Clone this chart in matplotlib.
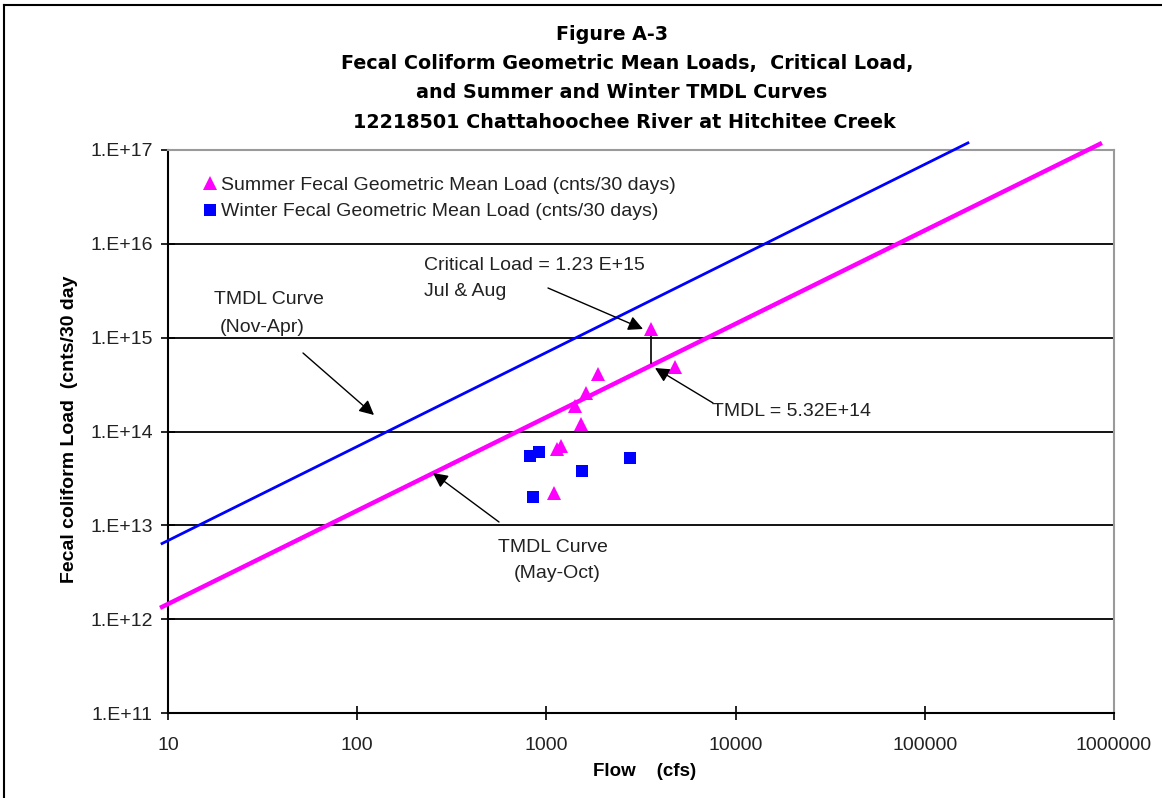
import matplotlib
matplotlib.use("Agg")
import matplotlib.pyplot as plt
from matplotlib.ticker import FixedLocator, FixedFormatter, NullLocator
from matplotlib.lines import Line2D

plt.rcParams['font.family'] = ['Liberation Sans', 'DejaVu Sans']

# ---------------- data ----------------
summer_flow = [3550, 4786, 1875, 1618, 1416, 1524, 1138, 1194, 1097]
summer_load = [1.23e15, 4.87e14, 4.10e14, 2.57e14, 1.88e14, 1.20e14, 6.5e13, 7.0e13, 2.23e13]

winter_flow = [819, 914, 1542, 2767, 847]
winter_load = [5.52e13, 6.10e13, 3.77e13, 5.26e13, 2.02e13]

winter_curve_flow = [9.3, 1.69e5]
winter_curve_load = [6.4e12, 1.19e17]
summer_curve_flow = [9.3, 8.43e5]
summer_curve_load = [1.35e12, 1.16e17]

critical_flow = 3550
critical_load = 1.23e15
tmdl_load = 5.32e14

y_ticks = [1e11, 1e12, 1e13, 1e14, 1e15, 1e16, 1e17]
y_tick_labels = ['1.E+11', '1.E+12', '1.E+13', '1.E+14', '1.E+15', '1.E+16', '1.E+17']
x_ticks = [10, 100, 1000, 10000, 100000, 1000000]
x_tick_labels = ['10', '100', '1000', '10000', '100000', '1000000']

title_lines = ['Figure A-3',
               'Fecal Coliform Geometric Mean Loads,  Critical Load,',
               'and Summer and Winter TMDL Curves',
               '12218501 Chattahoochee River at Hitchitee Creek']

# ---------------- figure ----------------
W, H = 1162, 798
fig = plt.figure(figsize=(W / 100, H / 100), dpi=100)
fig.patch.set_facecolor('white')
L, R, T, B = 168, 1114, 150, 713
ax = fig.add_axes([L / W, 1 - B / H, (R - L) / W, (B - T) / H])
ax.set_xscale('log')
ax.set_yscale('log')
ax.set_xlim(10, 1e6)
ax.set_ylim(1e11, 1e17)

FS = 14
ax.yaxis.set_major_locator(FixedLocator(y_ticks))
ax.yaxis.set_major_formatter(FixedFormatter(y_tick_labels))
ax.xaxis.set_major_locator(FixedLocator(x_ticks))
ax.xaxis.set_major_formatter(FixedFormatter(x_tick_labels))
ax.xaxis.set_minor_locator(NullLocator())
ax.yaxis.set_minor_locator(NullLocator())
ax.tick_params(axis='both', direction='inout', length=10, width=1.2, colors='black',
               labelsize=FS, labelcolor='#222222')
ax.tick_params(axis='y', pad=6)
ax.tick_params(axis='x', pad=12)

ax.yaxis.grid(True, color='black', linewidth=1.3)
ax.set_axisbelow(True)
for s in ['left', 'bottom']:
    ax.spines[s].set_color('black')
    ax.spines[s].set_linewidth(1.5)
for s in ['top', 'right']:
    ax.spines[s].set_color('#9a9a9a')
    ax.spines[s].set_linewidth(1.5)

# TMDL curves
ax.plot(winter_curve_flow, winter_curve_load, color='#0000ff', lw=2.0, clip_on=False, zorder=3)
ax.plot(summer_curve_flow, summer_curve_load, color='#ff00ff', lw=3.2, clip_on=False, zorder=3)

# critical-to-TMDL connector
ax.plot([critical_flow, critical_flow], [critical_load * 0.93, tmdl_load], color='black', lw=1.2, zorder=3)

# data
ax.plot(winter_flow, winter_load, linestyle='none', marker='s', ms=8, color='#0000ff',
        markeredgewidth=0, zorder=4)
ax.plot(summer_flow, summer_load, linestyle='none', marker='^', ms=10, color='#ff00ff',
        markeredgewidth=0, zorder=4)

# legend
handles = [Line2D([], [], linestyle='none', marker='^', ms=10, color='#ff00ff', markeredgewidth=0),
           Line2D([], [], linestyle='none', marker='s', ms=8, color='#0000ff', markeredgewidth=0)]
ax.legend(handles, ['Summer Fecal Geometric Mean Load (cnts/30 days)',
                    'Winter Fecal Geometric Mean Load (cnts/30 days)'],
          loc='upper left', bbox_to_anchor=(204 / W, 1 - 176 / H), bbox_transform=fig.transFigure,
          frameon=False, fontsize=FS, handlelength=0.6, handletextpad=0.25,
          labelspacing=0.47, borderpad=0, borderaxespad=0)
for t in ax.get_legend().get_texts():
    t.set_color('#222222')


def P(x, y):
    return (x, H - y)


arrow = dict(arrowstyle='-|>', color='black', lw=1.0, mutation_scale=22, shrinkA=0, shrinkB=0)
txtc = '#222222'

ax.annotate('', xy=P(643, 329), xytext=P(548, 288), xycoords='figure pixels',
            textcoords='figure pixels', arrowprops=arrow)
ax.annotate('', xy=P(655, 368), xytext=P(713, 403), xycoords='figure pixels',
            textcoords='figure pixels', arrowprops=arrow)
ax.annotate('', xy=P(374, 415), xytext=P(303, 353), xycoords='figure pixels',
            textcoords='figure pixels', arrowprops=arrow)
ax.annotate('', xy=P(433, 473), xytext=P(499, 522), xycoords='figure pixels',
            textcoords='figure pixels', arrowprops=arrow)

fig.text(424 / W, 1 - 266 / H, 'Critical Load = 1.23 E+15', fontsize=FS, color=txtc, va='center', ha='left')
fig.text(424 / W, 1 - 292 / H, 'Jul & Aug', fontsize=FS, color=txtc, va='center', ha='left')
fig.text(712 / W, 1 - 411 / H, 'TMDL = 5.32E+14', fontsize=FS, color=txtc, va='center', ha='left')
fig.text(214 / W, 1 - 300 / H, 'TMDL Curve', fontsize=FS, color=txtc, va='center', ha='left')
fig.text(220 / W, 1 - 327 / H, '(Nov-Apr)', fontsize=FS, color=txtc, va='center', ha='left')
fig.text(553 / W, 1 - 547 / H, 'TMDL Curve', fontsize=FS, color=txtc, va='center', ha='center')
fig.text(557 / W, 1 - 573 / H, '(May-Oct)', fontsize=FS, color=txtc, va='center', ha='center')

# titles
for xx, yy, line in zip([612, 627, 622, 624], [35, 64, 93, 122], title_lines):
    fig.text(xx / W, 1 - yy / H, line, fontsize=13.8, fontweight='bold', ha='center', va='center',
             family=['DejaVu Sans'])

fig.text(645 / W, 1 - 772 / H, 'Flow    (cfs)', fontsize=13.5, fontweight='bold', ha='center', va='center')
fig.text(70 / W, 1 - 429 / H, 'Fecal coliform Load  (cnts/30 day', fontsize=FS, fontweight='bold',
         ha='center', va='center', rotation=90)

# outer border (left and top)
fig.add_artist(Line2D([4 / W, 4 / W], [0, 1 - 5 / H], transform=fig.transFigure, color='black', lw=1.5))
fig.add_artist(Line2D([4 / W, 1], [1 - 5 / H, 1 - 5 / H], transform=fig.transFigure, color='black', lw=1.5))

fig.savefig('out.png', dpi=100)
